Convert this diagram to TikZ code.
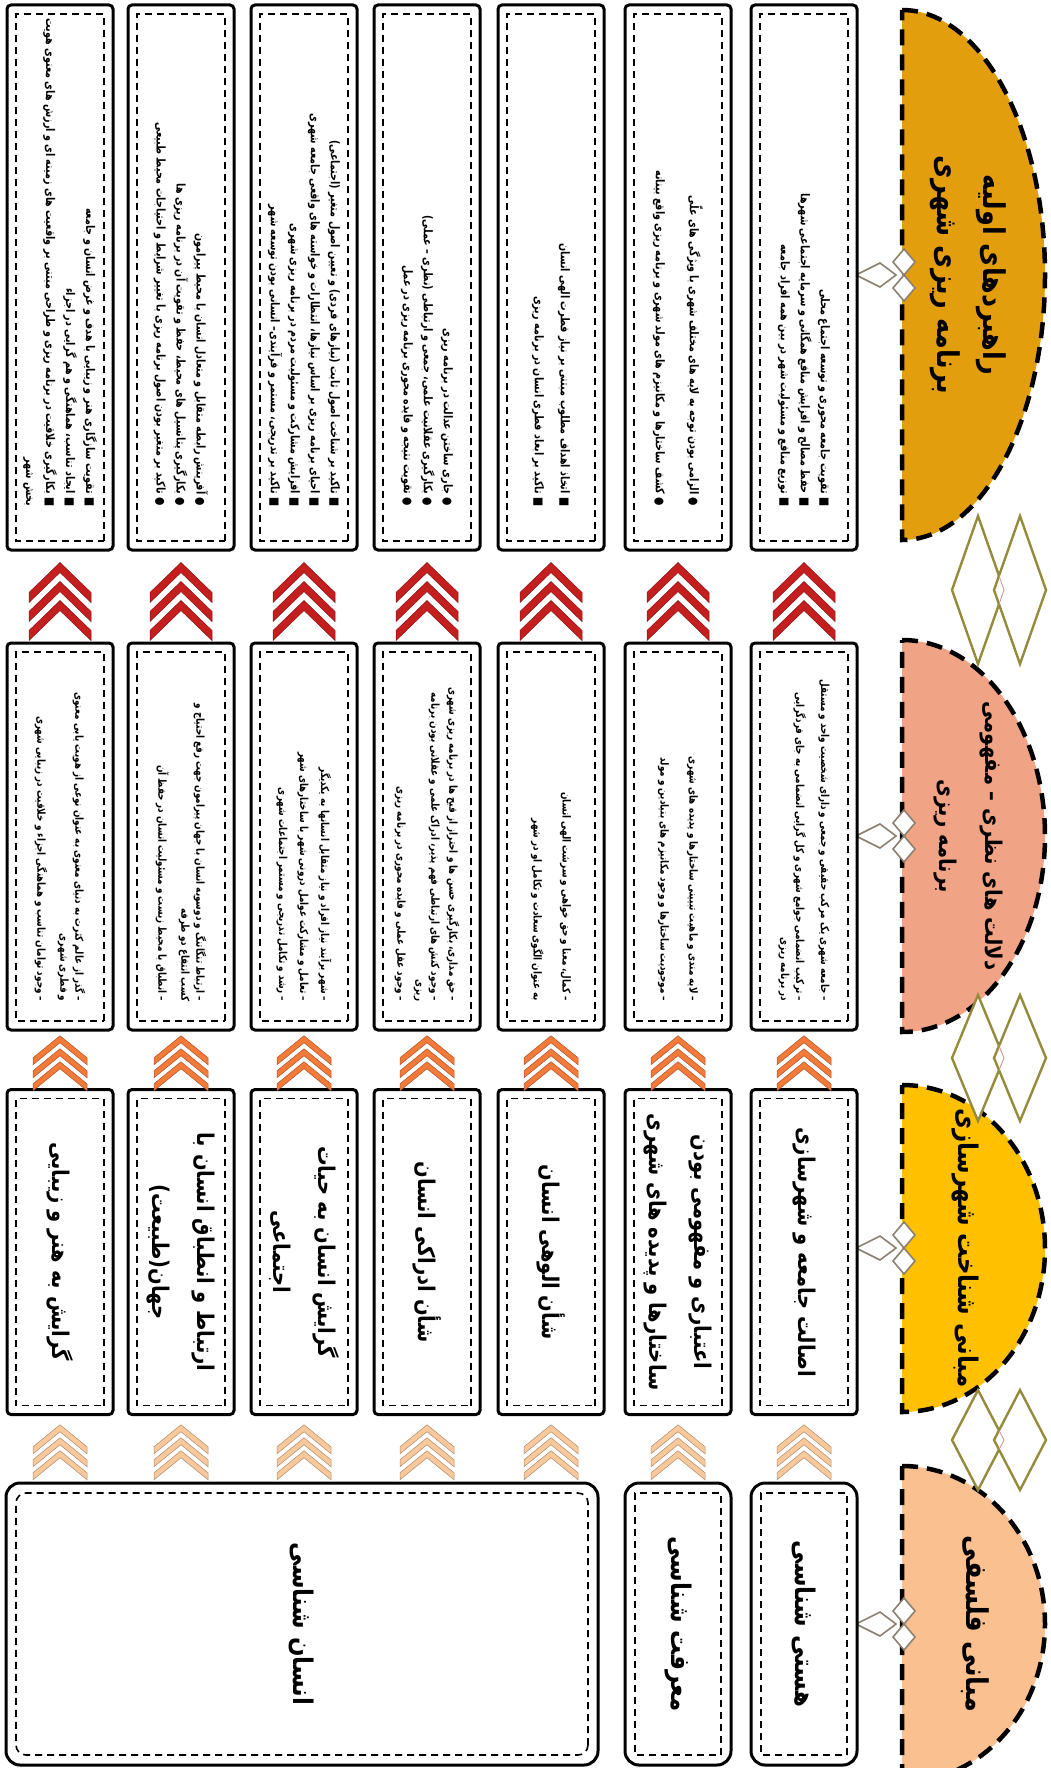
\documentclass[tikz,border=0pt]{standalone}
\usepackage{fontspec}
\usetikzlibrary{calc,decorations.markings}
\newfontfamily\arabicfont[Script=Arabic]{DejaVu Sans}
\newfontfamily\arabicnarrow[Script=Arabic, FakeStretch=0.8]{DejaVu Sans}
\newfontfamily\arabichead[Script=Arabic, FakeStretch=0.85]{DejaVu Sans}
\TeXXeTstate=1
\newcommand{\fa}[1]{\beginR #1\endR}

\definecolor{hdrphil}{HTML}{FAC08F}
\definecolor{hdrbase}{HTML}{FFC000}
\definecolor{hdrimpl}{HTML}{F0A385}
\definecolor{hdrstrat}{HTML}{E39E0E}
\definecolor{chevpale}{HTML}{F9C89B}
\definecolor{chevmid}{HTML}{F47A3A}
\definecolor{chevdark}{HTML}{C41E1E}
\definecolor{gemc}{HTML}{958B3C}
\definecolor{gemline}{HTML}{D08A8A}
\definecolor{leafc}{HTML}{8C8070}

% colour, depth, half height, spacing, band
\newcommand{\chevset}[5]{%
  \foreach \d in {-#4,0,#4}{
    \filldraw[fill=#1, draw=#1!70!black, line width=0.5pt]
      (\d+#2/2,0) -- (\d-#2/2,#3) -- (\d-#2/2-#5,#3) -- (\d+#2/2-#5,0) -- (\d-#2/2-#5,-#3) -- (\d-#2/2,-#3) -- cycle;
  }}

\tikzset{
  outbox/.style={draw=black, line width=3pt, fill=white, rounded corners=4pt, inner sep=0pt},
  inbox/.style={draw=black, line width=1.6pt, dash pattern=on 7pt off 5pt, inner sep=0pt},
  hdrline/.style={draw=black, line width=4.5pt, dash pattern=on 16pt off 9pt},
  gem/.style={draw=gemc, line width=2.4pt, fill=white},
  leaf/.style={draw=leafc, line width=1.6pt, fill=white},
  txtS/.style={font=\arabicnarrow\bfseries\fontsize{11}{15}\selectfont, align=right, anchor=east, inner sep=0pt},
  txtM/.style={font=\arabicnarrow\bfseries\fontsize{12}{20}\selectfont, align=right, anchor=east, inner sep=0pt},
  txtL/.style={font=\arabichead\bfseries\fontsize{23}{45}\selectfont, align=center},
  txtP/.style={font=\arabichead\bfseries\fontsize{27}{40}\selectfont, align=center},
  txtH/.style={font=\arabichead\bfseries\fontsize{#1}{46}\selectfont, align=center},
  chevA/.style={decoration={markings, mark=at position 0.5 with {\chevset{chevpale}{22}{27}{13}{7}}}, postaction={decorate}},
  chevB/.style={decoration={markings, mark=at position 0.5 with {\chevset{chevmid}{22}{27}{13}{7}}}, postaction={decorate}},
  chevC/.style={decoration={markings, mark=at position 0.5 with {\chevset{chevdark}{30}{31}{19}{10}}}, postaction={decorate}}
}

\begin{document}
\begin{tikzpicture}[x=1pt,y=1pt]
\begin{scope}[rotate=-90, transform shape]
\path[use as bounding box] (0,0) rectangle (1768,1050);

% header domes
\foreach \a/\b/\c in {10/540/hdrstrat, 640/1032/hdrimpl, 1085/1412/hdrbase, 1466/1782/hdrphil}{
  \filldraw[hdrline, fill=\c] (\a,902) arc[start angle=180, end angle=0, x radius={(\b-\a)/2}, y radius=143] -- cycle;
}
\node[txtH=30] (hdrstrat) at (275,968) {\fa{راهبردهای اولیه}\\\fa{برنامه ریزی شهری}};
\node[txtH=23] (hdrimpl) at (836,968) {\fa{دلالت های نظری – مفهومی}\\\fa{برنامه ریزی}};
\node[txtH=27] (hdrbase) at (1248,965) {\fa{مبانی شناخت شهرسازی}};
\node[txtH=30] (hdrphil) at (1624,975) {\fa{مبانی فلسفی}};

% links between headers
\foreach \m/\l in {590/74,1058/63,1440/50}{
  \draw[gem] (\m-\l,978) -- (\m,1004) -- (\m+\l,978) -- (\m,952) -- cycle;
  \draw[gem] (\m-\l,1020) -- (\m,1046) -- (\m+\l,1020) -- (\m,994) -- cycle;
  \begin{scope}
    \clip (\m-\l,1020) -- (\m,1046) -- (\m+\l,1020) -- (\m,994) -- cycle;
    \draw[gemline, line width=0.8pt] (\m-\l,978) -- (\m,1004) -- (\m+\l,978);
  \end{scope}
}
\foreach \m in {275,836,1248,1624}{
  \draw[leaf] (\m,856) -- (\m+12,880) -- (\m,896) -- (\m-12,880) -- cycle;
  \draw[leaf] (\m-26,904) -- (\m-13,915) -- (\m,904) -- (\m-13,893) -- cycle;
  \draw[leaf] (\m,904) -- (\m+13,915) -- (\m+26,904) -- (\m+13,893) -- cycle;
}

% boxes
\foreach \n/\y in {1/804,2/678,3/551,4/427,5/304,6/181,7/60}{
  \node[outbox, minimum width=545, minimum height=106] (strat\n) at (277.5,\y) {};
  \node[inbox, minimum width=527, minimum height=88] at (strat\n) {};
  \node[outbox, minimum width=387, minimum height=106] (impl\n) at (836.5,\y) {};
  \node[inbox, minimum width=369, minimum height=88] at (impl\n) {};
  \node[outbox, minimum width=325, minimum height=106] (base\n) at (1252,\y) {};
  \node[inbox, minimum width=307, minimum height=88] at (base\n) {};
}
\node[outbox, rounded corners=14pt, minimum width=282, minimum height=106] (phil1) at (1624,804) {};
\node[inbox, minimum width=262, minimum height=86] at (phil1) {};
\node[outbox, rounded corners=14pt, minimum width=282, minimum height=106] (phil2) at (1624,678) {};
\node[inbox, minimum width=262, minimum height=86] at (phil2) {};
\node[outbox, rounded corners=14pt, minimum width=282, minimum height=592] (phil3) at (1624,302) {};
\node[inbox, rounded corners=10pt, minimum width=262, minimum height=572] at (phil3) {};

% philosophy
\node[txtP] (phil1t) at (phil1) {\fa{هستی شناسی}};
\node[txtP] (phil2t) at (phil2) {\fa{معرفت شناسی}};
\node[txtP] (phil3t) at (phil3) {\fa{انسان شناسی}};

% foundations
\node[txtL] (base1t) at (base1) {\fa{اصالت جامعه و شهرسازی}};
\node[txtL] (base2t) at (base2) {\fa{اعتباری و مفهومی بودن}\\\fa{ساختارها و پدیده های شهری}};
\node[txtL] (base3t) at (base3) {\fa{شأن الوهی انسان}};
\node[txtL] (base4t) at (base4) {\fa{شأن ادراکی انسان}};
\node[txtL] (base5t) at (base5) {\fa{گرایش انسان به حیات}\\\fa{اجتماعی}};
\node[txtL] (base6t) at (base6) {\fa{ارتباط و انطباق انسان با}\\\fa{جهان(طبیعت)}};
\node[txtL] (base7t) at (base7) {\fa{گرایش به هنر و زیبایی}};

% implications
\node[txtS] (impl1t) at ($(impl1.east)!30pt!(impl1.west)$) {\fa{– جامعه شهری یک مرکب حقیقی و جمعی و دارای شخصیت واحد و مستقل}\\[10pt]\fa{– ترکیب انضمامی جوامع شهری و کل گرایی انضمامی به جای فردگرایی}\\\fa{در برنامه ریزی}};
\node[txtS] (impl2t) at ($(impl2.east)!30pt!(impl2.west)$) {\fa{– لایه مندی و ماهیت تبیینی ساختارها و پدیده های شهری}\\[14pt]\fa{– موجودیت ساختارها و وجود مکانیزم های بنیادین و مولد}};
\node[txtS] (impl3t) at ($(impl3.east)!30pt!(impl3.west)$) {\fa{– کمال، معنا و حق خواهی و سرشت الهی انسان}\\[14pt]\fa{به عنوان الگوی سعادت و تکامل او در شهر}};
\node[txtS] (impl4t) at ($(impl4.east)!30pt!(impl4.west)$) {\fa{– حق مداری، بکارگیری حسن ها و احتراز از قبح ها در برنامه ریزی شهری}\\[3pt]\fa{– وجود کنش های ارتباطی فهم پذیر، ادراک علمی و عقلانی بودن برنامه}\\\fa{ریزی}\\[4pt]\fa{– وجود عقل عملی و فایده محوری در برنامه ریزی}};
\node[txtS] (impl5t) at ($(impl5.east)!30pt!(impl5.west)$) {\fa{– شهر برآیند نیاز افراد و نیاز متقابل انسانها به یکدیگر}\\[6pt]\fa{– تعامل و مشارکت عوامل درونی شهر با ساختارهای شهر}\\[6pt]\fa{– رشد و تکامل تدریجی و مستمر اجتماعات شهری}};
\node[txtS] (impl6t) at ($(impl6.east)!30pt!(impl6.west)$) {\fa{– ارتباط تنگاتنگ و دوسویه انسان با جهان پیرامون جهت رفع احتیاج و}\\\fa{کسب انتفاع دو طرفه}\\[8pt]\fa{– انطباق با محیط زیست و مسئولیت انسان در حفظ آن}};
\node[txtS] (impl7t) at ($(impl7.east)!30pt!(impl7.west)$) {\fa{– گذر از عالم کثرت به دنیای معنوی به عنوان نوعی از هویت یابی معنوی}\\\fa{و فطری شهری}\\[8pt]\fa{– وجود توامان تناسب و هماهنگی اجزاء و خلاقیت در زیبایی شهری}};

% strategies
\node[txtM] (strat1t) at ($(strat1.east)!45pt!(strat1.west)$) {\fa{■ تقویت جامعه محوری و توسعه اجتماع محلی}\\\fa{■ حفظ مصالح و افزایش منافع همگانی و سرمایه اجتماعی شهرها}\\\fa{■ توزیع منافع و مسئولیت شهر در بین همه افراد جامعه}};
\node[txtM] (strat2t) at ($(strat2.east)!45pt!(strat2.west)$) {\fa{● الزامی بودن توجه به لایه های مختلف شهری با ویژگی های علّی}\\[14pt]\fa{● کشف ساختارها و مکانیزم های مولد شهری و برنامه ریزی واقع بینانه}};
\node[txtM] (strat3t) at ($(strat3.east)!45pt!(strat3.west)$) {\fa{■ اتخاذ اهداف مطلوب مبتنی بر نیاز فطرت الهی انسان}\\[6pt]\fa{■ تاکید بر ابعاد فطری انسان در برنامه ریزی}};
\node[txtM] (strat4t) at ($(strat4.east)!45pt!(strat4.west)$) {\fa{● جاری ساختن عدالت در برنامه ریزی}\\\fa{● بکارگیری عقلانیت علمی، جمعی و ارتباطی (نظری – عملی)}\\\fa{● تقویت نتیجه و فایده محوری برنامه ریزی در عمل}};
\node[txtM] (strat5t) at ($(strat5.east)!45pt!(strat5.west)$) {\fa{■ تاکید بر شناخت اصول ثابت (نیازهای فردی) و تعیین اصول متغیر (اجتماعی)}\\\fa{■ احیای برنامه ریزی بر اساس نیازها، انتظارات و خواسته های واقعی جامعه شهری}\\\fa{■ افزایش مشارکت و مسئولیت مردم در برنامه ریزی شهری}\\\fa{■ تاکید بر تدریجی، مستمر و فرآیندی– انسانی بودن توسعه شهر}};
\node[txtM] (strat6t) at ($(strat6.east)!45pt!(strat6.west)$) {\fa{● آفرینش رابطه متقابل و متعادل انسان با محیط پیرامون}\\\fa{● بکارگیری پتانسیل های محیط، حفظ و تقویت آن در برنامه ریزی ها}\\\fa{● تاکید بر متغیر بودن اصول برنامه ریزی با تغییر شرایط و احتیاجات محیط طبیعی}};
\node[txtM] (strat7t) at ($(strat7.east)!45pt!(strat7.west)$) {\fa{■ تقویت سازگاری هنر و زیبایی با هدف و غرض انسان و جامعه}\\\fa{■ ایجاد تناسب، هماهنگی و هم گرایی در اجزاء}\\\fa{■ بکارگیری خلاقیت در برنامه ریزی و طراحی مبتنی بر واقعیت های زمینه ای و ارزش های معنوی هویت}\\\fa{بخش شهر}};

% chevrons
\path[chevA] (phil1.west) -- (base1.east);
\path[chevA] (phil2.west) -- (base2.east);
\foreach \n in {3,...,7}{
  \path[chevA] ($(phil3.north west)!(base\n.east)!(phil3.south west)$) -- (base\n.east);
}
\foreach \n in {1,...,7}{
  \path[chevB] (base\n.west) -- (impl\n.east);
  \path[chevC] (impl\n.west) -- (strat\n.east);
}
\end{scope}
\end{tikzpicture}
\end{document}
